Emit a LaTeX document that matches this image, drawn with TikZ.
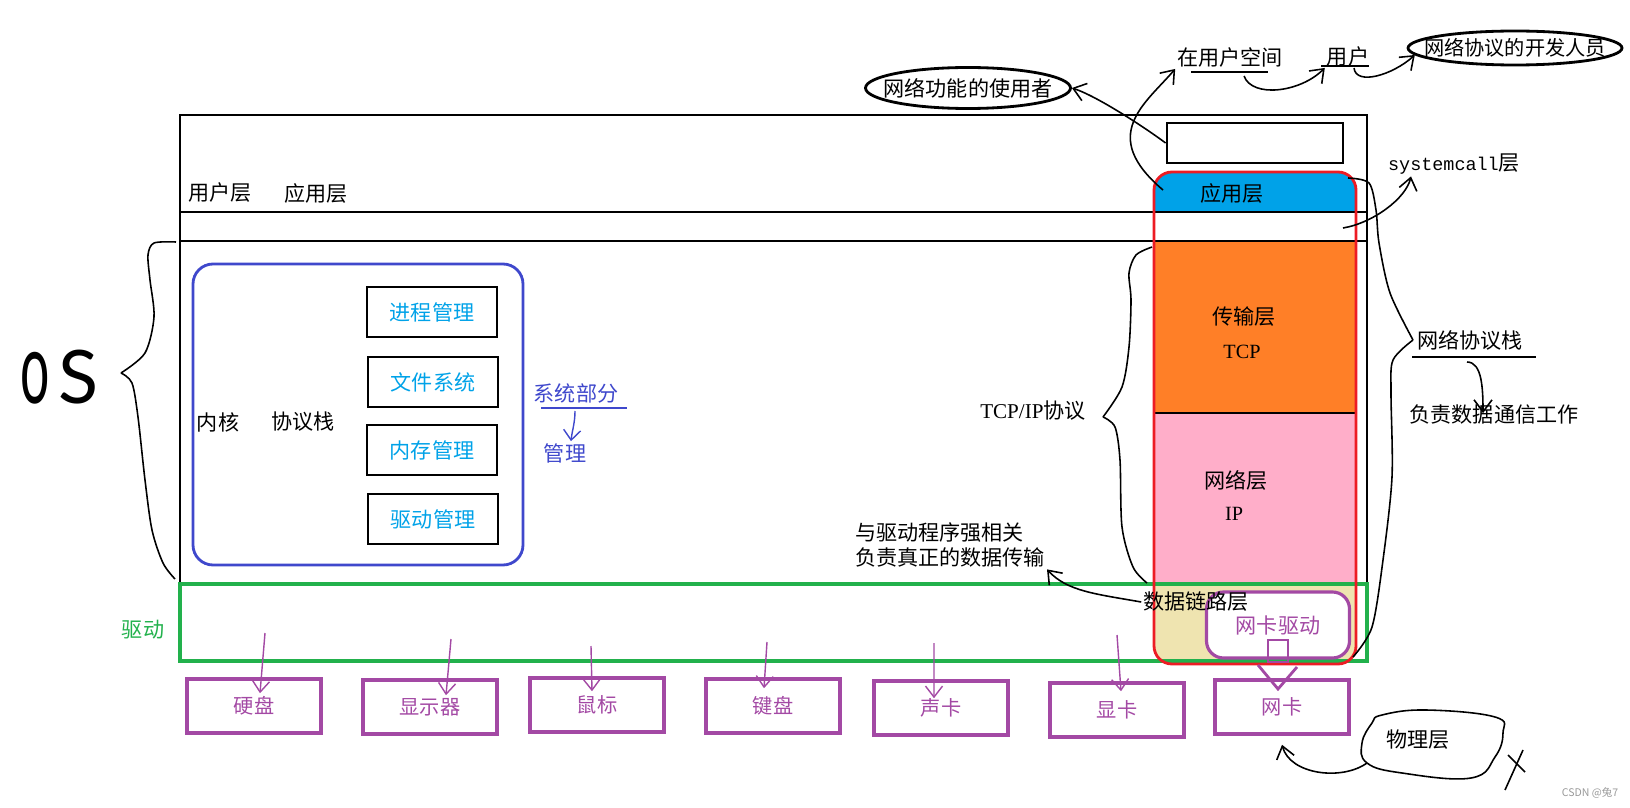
\documentclass[tikz,border=0pt]{standalone}
\usepackage{fontspec}
\usepackage{graphicx}
\setmainfont{Noto Sans CJK SC}
\setmonofont{Liberation Mono}
\newfontfamily\latfont{Liberation Serif}
\newfontfamily\osfont{Lato}
\usetikzlibrary{shapes.geometric,arrows.meta}

\definecolor{appblue}{HTML}{00A2E8}
\definecolor{kernblue}{HTML}{3F48CC}
\definecolor{devpurple}{HTML}{A349A4}
\definecolor{drvgreen}{HTML}{22B14C}
\definecolor{stackred}{HTML}{ED1C24}
\definecolor{tcporange}{HTML}{FF7F27}
\definecolor{ippink}{HTML}{FFAEC9}
\definecolor{linktan}{HTML}{EFE4B0}

\tikzset{
  frame/.style={draw, line width=1.6pt},
  freeline/.style={line width=0.9pt},
  hand/.style={line width=0.9pt, -{Straight Barb[length=2.4mm,width=3.6mm]}},
  module/.style={draw, line width=1.6pt, minimum width=26mm, minimum height=10mm, text=appblue},
  dev/.style={draw=devpurple, line width=2pt, text=devpurple, minimum width=26.8mm, minimum height=10.8mm, font=\fontsize{11.5}{12}\selectfont},
  devarr/.style={devpurple, line width=0.8pt, -{Straight Barb[length=2.2mm,width=3.4mm]}},
  bubble/.style={draw, ellipse, line width=1.6pt, inner sep=0pt},
}

\begin{document}
\begin{tikzpicture}[x=0.2mm, y=-0.2mm, font=\fontsize{12}{14.2}\selectfont,
    every node/.style={inner sep=1pt}]
    \useasboundingbox (0,0) rectangle (1630,808);

    \begin{scope}
        \clip[rounded corners=3.6mm] (1154,172) rectangle (1356,664);
        \fill[appblue] (1154,172) rectangle (1356,212);
        \fill[ippink] (1154,413) rectangle (1356,584);
        \fill[linktan] (1154,584) rectangle (1356,664);
    \end{scope}
    \draw[frame, fill=tcporange] (1154,241) rectangle (1356,413);

    \draw[frame] (180,115) rectangle (1367,584);
    \draw[frame] (180,212) -- (1367,212);
    \draw[frame] (180,241) -- (1367,241);
    \draw[drvgreen, line width=1.8pt] (180,584) rectangle (1367,661);
    \draw[stackred, line width=1.6pt, rounded corners=3.6mm] (1154,172) rectangle (1356,664);
    \node[frame, minimum width=35.2mm, minimum height=8mm] (sysbox) at (1255,143) {};

    \node[draw=devpurple, line width=1.8pt, fill=white, rounded corners=3.4mm, minimum width=28.6mm,
        minimum height=13.2mm, text=devpurple] (nicdrv) at (1278,625) {网卡驱动};
    \draw[devpurple, line width=1.6pt] (1268,640) rectangle (1288,662);
    \draw[devpurple, line width=1.6pt] (1258,665) -- (1278,689) -- (1297,667);

    \node (userlayer) at (220,193) {用户层};
    \node (applayer) at (316,193) {应用层};
    \node[text=drvgreen] (drvtag) at (143,630) {驱动};
    \node[font=\osfont\fontsize{42}{42}\selectfont, anchor=base west] (os) at (18,403)
        {\scalebox{0.7}[1.35]{o}\hspace{1.8mm}S};

    \draw[kernblue, line width=1.6pt, rounded corners=4mm] (193,264) rectangle (523,565);
    \node (kernel) at (218,422) {内核};
    \node (kstack) at (303,422) {协议栈};
    \node[module] (proc) at (432,312) {进程管理};
    \node[module] (fs) at (433,382) {文件系统};
    \node[module] (mem) at (432,450) {内存管理};
    \node[module] (drvmgr) at (433,519) {驱动管理};

    \node[text=kernblue] (syspart) at (576,393) {系统部分};
    \draw[kernblue, line width=0.9pt] (541,408) -- (627,408);
    \coordinate (sp-a) at (575,411);
    \node[text=kernblue] (guanli) at (565,453) {管理};
    \draw[kernblue, line width=0.8pt, -{Straight Barb[length=2mm,width=3.4mm]}]
        (sp-a) .. controls +(0,12) and +(1,-10) .. ([xshift=1.2mm]guanli.north);

    \node (app) at (1232,193) {应用层};
    \node (trans) at (1244,317) {传输层};
    \node[font=\latfont\fontsize{11.5}{13}\selectfont] (tcp) at (1242,352) {TCP};
    \node (net) at (1236,480) {网络层};
    \node[font=\latfont\fontsize{11.5}{13}\selectfont] (ip) at (1234,514) {IP};
    \node (dlink) at (1196,602) {数据链路层};

    \node (tcpip) at (1033,411) {{\latfont TCP/IP}协议};
    \node[align=left, anchor=west] (drvnote) at (853,545) {与驱动程序强相关\\负责真正的数据传输};
    \node (syscall) at (1454,164) {{\ttfamily\fontsize{10.5}{12}\selectfont systemcall}层};
    \node (nstack) at (1470,340) {网络协议栈};
    \draw[freeline] (1412,357) -- (1536,357);
    \node (duty) at (1494,415) {负责数据通信工作};

    \node[bubble, minimum width=41mm, minimum height=8.2mm] (user) at (968,88) {\makebox[0pt]{网络功能的使用者}};
    \node[bubble, minimum width=42.8mm, minimum height=6.8mm, font=\fontsize{11.5}{12}\selectfont] (dev) at (1515,48)
        {\makebox[0pt]{网络协议的开发人员}};
    \node (uspace) at (1230,57) {在用户空间};
    \draw[freeline] (1191,72) -- (1268,72);
    \node (yonghu) at (1348,56) {用户};
    \draw[freeline] (1321,66) -- (1369,66);

    \draw[freeline] plot[smooth] coordinates {(176,242) (154,243) (148,255) (150,280) (154,317) (145,353) (121,373)};
    \draw[freeline] plot[smooth] coordinates {(121,373) (132,383) (138,417) (145,480) (152,530) (163,563) (175,579)};
    \draw[freeline] plot[smooth] coordinates {(1152,247) (1136,255) (1129,273) (1131,300) (1129,347) (1122,387) (1103,417)};
    \draw[freeline] plot[smooth] coordinates {(1103,417) (1115,427) (1120,460) (1122,527) (1133,567) (1147,583)};
    \draw[freeline] plot[smooth] coordinates {(1348,178) (1369,183) (1376,210) (1379,243) (1390,293) (1413,340)};
    \draw[freeline] plot[smooth] coordinates {(1413,340) (1393,360) (1391,393) (1392,477) (1383,560) (1372,627) (1353,657)};

    \coordinate (app-in) at (1163,190);
    \coordinate (us-a) at (1244,76);
    \coordinate (yh-a) at (1354,68);
    \coordinate (sc-a) at (1343,228);
    \coordinate (st-a) at (1467,362);
    \draw[hand] (sysbox.west) .. controls +(-20,-15) and +(25,8) .. (user.east);
    \draw[hand] (app-in) .. controls +(-65,-55) and +(-30,35) .. (uspace.south west);
    \draw[hand] (us-a) .. controls +(8,22) and +(-25,25) .. (yonghu.south west);
    \draw[hand] (yh-a) .. controls +(2,18) and +(-22,20) .. (dev.184);
    \draw[hand] (sc-a) .. controls +(30,-5) and +(-5,22) .. ([xshift=-8.6mm]syscall.south);
    \draw[hand] (st-a) .. controls +(15,0) and +(0,-25) .. ([xshift=-2.2mm,yshift=-2mm]duty.north);
    \draw[hand] (dlink.west) .. controls +(-45,-8) and +(20,22) .. (drvnote.south east);

    \node[dev] (hd) at (254,706) {硬盘};
    \node[dev] (disp) at (430,707) {显示器};
    \node[dev] (mouse) at (597,705) {鼠标};
    \node[dev] (kbd) at (773,706) {键盘};
    \node[dev] (snd) at (941,708) {声卡};
    \node[dev] (gpu) at (1117,710) {显卡};
    \node[dev] (nic) at (1282,707) {网卡};

    \coordinate (hd-a) at (265,633);
    \coordinate (disp-a) at (451,639);
    \coordinate (mouse-a) at (591,646);
    \coordinate (kbd-a) at (767,642);
    \coordinate (snd-a) at (934,643);
    \coordinate (gpu-a) at (1117,635);
    \draw[devarr] (hd-a) -- ([xshift=1.2mm,yshift=-3.2mm]hd.north);
    \draw[devarr] (disp-a) -- ([xshift=3.2mm,yshift=-3.4mm]disp.north);
    \draw[devarr] (mouse-a) -- ([xshift=-1mm,yshift=-3mm]mouse.north);
    \draw[devarr] (kbd-a) -- ([xshift=-1.8mm,yshift=-2.2mm]kbd.north);
    \draw[devarr] (snd-a) -- ([xshift=-1.4mm,yshift=-3.8mm]snd.north);
    \draw[devarr] (gpu-a) -- ([xshift=0.8mm,yshift=-2mm]gpu.north);

    \draw[freeline] plot[smooth cycle, tension=0.7] coordinates {(1382,715) (1426,710) (1495,717) (1503,733)
        (1495,757) (1471,778) (1402,773) (1367,763) (1362,743) (1372,723)};
    \node (phys) at (1418,740) {物理层};
    \coordinate (ph-a) at (1367,763);
    \draw[hand] (ph-a) .. controls +(-25,18) and +(8,30) .. ([yshift=-1.8mm]nic.south);
    \draw[freeline] (1508,755) -- (1525,772);
    \draw[freeline] (1523,750) -- (1505,790);

    \node[text=gray!80, font=\fontsize{6}{7}\selectfont] (mark) at (1590,793) {CSDN @兔7};
\end{tikzpicture}
\end{document}
